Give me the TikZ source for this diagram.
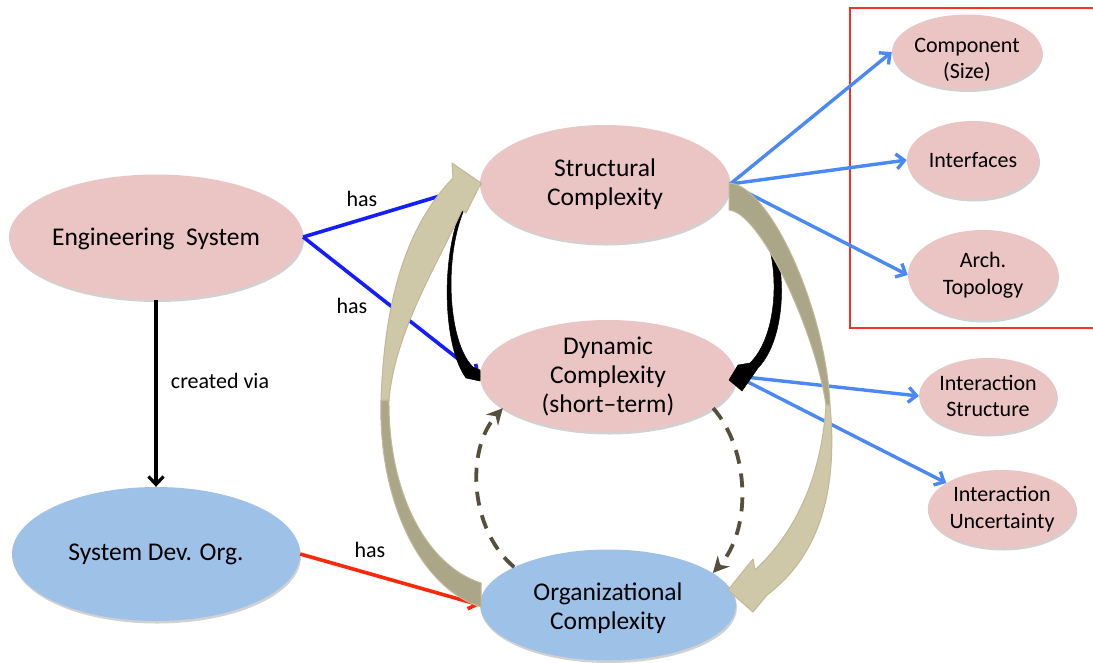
\documentclass[tikz,border=0pt]{standalone}
\usepackage{fontspec}
\setmainfont{Carlito}
\usetikzlibrary{shapes.geometric,arrows.meta,shadows}
\definecolor{pinkfill}{RGB}{235,196,196}
\definecolor{bluefill}{RGB}{158,193,232}
\definecolor{tanlight}{RGB}{207,200,168}
\definecolor{tandark}{RGB}{172,166,137}
\definecolor{tanedge}{RGB}{192,185,152}
\definecolor{olivedash}{RGB}{85,80,60}
\definecolor{hasblue}{RGB}{20,30,250}
\definecolor{lightblue}{RGB}{74,136,245}
\definecolor{hasred}{RGB}{250,40,10}
\definecolor{boxred}{RGB}{240,50,40}
\newcommand\mainsize{\fontsize{25.5}{29}\selectfont}
\newcommand\subsize{\fontsize{22}{26.5}\selectfont}
\begin{document}
\begin{tikzpicture}[x=1pt,y=-1pt,
  ell/.style={ellipse, inner sep=0pt, align=center,
    drop shadow={shadow xshift=1pt, shadow yshift=-2.5pt, opacity=0.18, fill=black}},
  pinkell/.style={ell, fill=pinkfill},
  blueell/.style={ell, fill=bluefill},
  hasline/.style={line width=3.6pt, hasblue, -{Straight Barb[length=8pt,width=14pt]}},
  subline/.style={line width=3.4pt, lightblue, -{Straight Barb[length=8pt,width=15pt]}},
  redline/.style={line width=3.6pt, hasred, -{Straight Barb[length=8pt,width=14pt]}},
  blackline/.style={line width=3.2pt, black, -{Straight Barb[length=8pt,width=15pt]}},
  dashline/.style={line width=3.8pt, olivedash, dash pattern=on 14pt off 10pt, -{Stealth[length=16pt,width=16pt]}},
  lbl/.style={inner sep=0pt, font=\subsize},
  tanlt/.style={fill=tanlight, draw=tanedge, line width=1pt, line join=round},
  tandk/.style={fill=tandark, draw=tanedge, line width=1pt, line join=round},
  blk/.style={fill=black, draw=black, line width=0.5pt, line join=round}
]
\useasboundingbox (0,0) rectangle (1093,662);
\fill[white] (0,0) rectangle (1093,662);

% red frame
\draw[boxred, line width=1.5pt] (1096,8) -- (850,8) -- (850,328) -- (1096,328);

% nodes
\node[pinkell, minimum width=288pt, minimum height=125pt, font=\mainsize] (eng) at (156,237) {\raisebox{-2pt}[\height][\depth]{Engineering\ \ System}};
\node[blueell, minimum width=288pt, minimum height=134pt, font=\mainsize] (sys) at (156,554) {System Dev. Org.};
\node[pinkell, minimum width=250pt, minimum height=118pt, font=\mainsize] (str) at (605,184) {Structural\\Complexity};
\node[pinkell, minimum width=256pt, minimum height=112pt, font=\mainsize] (dyn) at (608,376) {Dynamic\\Complexity\\(short–term)};
\node[blueell, minimum width=256pt, minimum height=111pt, font=\mainsize] (org) at (608,605) {\raisebox{-4pt}[\height][\depth]{\begin{tabular}{@{}c@{}}Organizational\\Complexity\end{tabular}}};
\node[pinkell, minimum width=150pt, minimum height=72pt, font=\subsize] (comp) at (967,52) {\raisebox{-8pt}[\height][\depth]{\begin{tabular}{@{}c@{}}Component\\(Size)\end{tabular}}};
\node[pinkell, minimum width=132pt, minimum height=78pt, font=\subsize] (intf) at (973,160) {Interfaces};
\node[pinkell, minimum width=150pt, minimum height=90pt, font=\subsize] (arch) at (983,275) {Arch.\\Topology};
\node[pinkell, minimum width=136pt, minimum height=76pt, font=\subsize] (ist) at (988,396) {Interaction\\Structure};
\node[pinkell, minimum width=136pt, minimum height=78pt, font=\subsize] (iun) at (1002,509) {Interaction\\Uncertainty};

% straight connectors
\draw[hasline] (eng.east) -- (str.west);
\draw[hasline] (eng.east) -- (dyn.west);
\draw[blackline] (eng.south) -- (sys.north);
\draw[redline] (sys.east) -- (org.west);
\draw[subline] (str.east) -- (comp.west);
\draw[subline] (str.east) -- (intf.west);
\draw[subline] (str.east) -- (arch.west);
\draw[subline] (dyn.east) -- (ist.west);
\draw[subline] (dyn.east) -- (iun.155);

% labels
\node[lbl] (has1) at (362,199) {has};
\node[lbl] (has2) at (352,306) {has};
\node[lbl] (via) at (220,381) {created via};
\node[lbl] (has3) at (370,550) {has};

% black curved arrows
\filldraw[blk] (480,182) .. controls (440,215) and (438,340) .. (466,378)
  -- (480,381) -- (480,370) -- (473,367)
  .. controls (443,338) and (442,220) .. (481,184) -- cycle;
\filldraw[blk] (731,184) .. controls (790,210) and (795,330) .. (758,368)
  -- (742,391) -- (729,380) -- (738,365) -- (750,363)
  .. controls (784,330) and (785,226) .. (733,185) -- cycle;

% dashed curved arrows
\draw[dashline] (org.158) .. controls (470,530) and (465,450) .. (dyn.197);
\draw[dashline] (dyn.-17) .. controls (750,450) and (752,530) .. (org.17);

% tan ribbon arrow: organizational -> structural
\filldraw[tandk] (381,400) .. controls (378,500) and (420,588) .. (481,607)
  -- (481,583) .. controls (425,565) and (388,490) .. (389,400) -- cycle;
\filldraw[tanlt] (453,178) -- (452,163) -- (481,183) -- (466,213) -- (462,210)
  .. controls (440,260) and (395,330) .. (389,400) -- (381,400)
  .. controls (384,320) and (398,235) .. (453,178) -- cycle;

% tan ribbon arrow: structural -> organizational
\filldraw[tandk] (729,183) .. controls (770,185) and (826,310) .. (830,405)
  -- (826,405) .. controls (815,330) and (760,212) .. (729,210) -- cycle;
\filldraw[tanlt] (830,405) .. controls (838,490) and (820,555) .. (767,595)
  -- (753,612) -- (728,590) -- (753,559) -- (755,570)
  .. controls (800,528) and (822,470) .. (826,405) -- cycle;
\end{tikzpicture}
\end{document}
